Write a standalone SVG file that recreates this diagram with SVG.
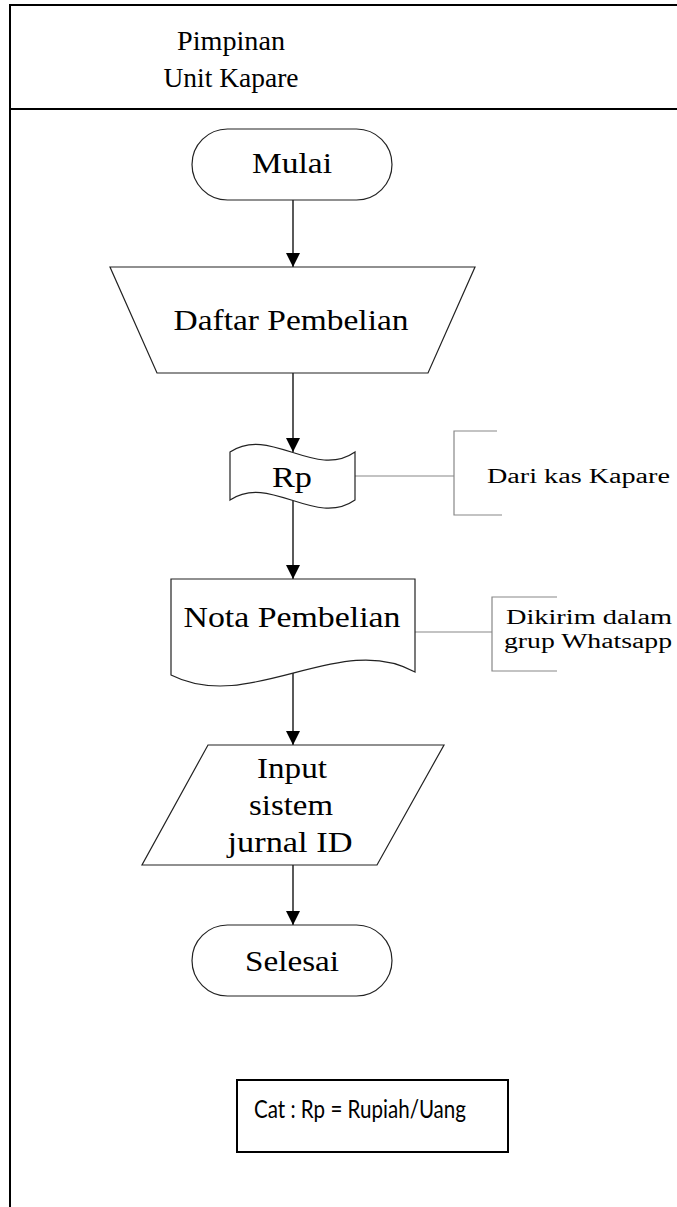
<svg xmlns="http://www.w3.org/2000/svg" width="677" height="1207" viewBox="0 0 677 1207">
  <style>
    .frame { fill: none; stroke: #000; stroke-width: 2; }
    .shape { fill: #fff; stroke: #222; stroke-width: 1.2; }
    .flow { fill: none; stroke: #000; stroke-width: 1.3; }
    .note { fill: none; stroke: #888; stroke-width: 1.2; }
  </style>
  <defs>
    <marker id="arrow" markerUnits="userSpaceOnUse" markerWidth="14" markerHeight="14" viewBox="0 0 14 14" refX="14" refY="7" orient="auto">
      <path d="M0,0 L14,7 L0,14 Z" fill="#000"/>
    </marker>
  </defs>
  <rect width="677" height="1207" fill="#fff"/>

  <!-- swimlane frame -->
  <g id="lane" font-family="Liberation Serif, serif" font-size="28" text-anchor="middle" fill="#000">
    <path class="frame" d="M10,1207 V5 H677 M10,109 H677"/>
    <text x="231" y="50" textLength="108" lengthAdjust="spacingAndGlyphs">Pimpinan</text>
    <text x="231" y="87" textLength="135" lengthAdjust="spacingAndGlyphs">Unit Kapare</text>
  </g>

  <!-- flow connectors -->
  <g id="connectors">
    <line class="flow" x1="293" y1="200" x2="293" y2="267" marker-end="url(#arrow)"/>
    <line class="flow" x1="293" y1="373" x2="293" y2="452" marker-end="url(#arrow)"/>
    <line class="flow" x1="293" y1="501" x2="293" y2="579" marker-end="url(#arrow)"/>
    <line class="flow" x1="293" y1="672" x2="293" y2="745" marker-end="url(#arrow)"/>
    <line class="flow" x1="293" y1="865" x2="293" y2="925" marker-end="url(#arrow)"/>
    <line class="note" x1="355" y1="476" x2="454" y2="476"/>
    <line class="note" x1="415" y1="632" x2="492" y2="632"/>
  </g>

  <g font-family="Liberation Serif, serif" font-size="30" text-anchor="middle" fill="#000">
    <g id="mulai">
      <rect class="shape" x="192" y="129" width="200" height="71" rx="35.5"/>
      <text x="292" y="173" textLength="80" lengthAdjust="spacingAndGlyphs">Mulai</text>
    </g>

    <g id="daftar-pembelian">
      <path class="shape" d="M110,267 H475 L428,373 H157 Z"/>
      <text x="291" y="330" textLength="235" lengthAdjust="spacingAndGlyphs">Daftar Pembelian</text>
    </g>

    <g id="rp">
      <path class="shape" d="M230,452 C270,425 315,480 355,452 V500 C315,528 270,473 230,500 Z"/>
      <text x="292" y="487" textLength="40" lengthAdjust="spacingAndGlyphs">Rp</text>
    </g>

    <g id="nota-pembelian">
      <path class="shape" d="M171,579 H415 V672 C340,630 250,715 171,675 Z"/>
      <text x="292" y="627" textLength="217" lengthAdjust="spacingAndGlyphs">Nota Pembelian</text>
    </g>

    <g id="input-jurnal">
      <path class="shape" d="M208,745 H444 L377,865 H142 Z"/>
      <text x="292" y="778" textLength="70" lengthAdjust="spacingAndGlyphs">Input</text>
      <text x="291" y="815" textLength="84" lengthAdjust="spacingAndGlyphs">sistem</text>
      <text x="290" y="852" textLength="125" lengthAdjust="spacingAndGlyphs">jurnal ID</text>
    </g>

    <g id="selesai">
      <rect class="shape" x="192" y="925" width="200" height="71" rx="35.5"/>
      <text x="292" y="971" textLength="94" lengthAdjust="spacingAndGlyphs">Selesai</text>
    </g>
  </g>

  <g font-family="Liberation Serif, serif" font-size="20" fill="#000">
    <g id="note-kas">
      <path class="note" d="M497,431 H454 V515 H502"/>
      <text x="487" y="483" textLength="183" lengthAdjust="spacingAndGlyphs">Dari kas Kapare</text>
    </g>

    <g id="note-whatsapp">
      <path class="note" d="M557,597 H492 V671 H557"/>
      <text x="506" y="624" textLength="166" lengthAdjust="spacingAndGlyphs">Dikirim dalam</text>
      <text x="504" y="648" textLength="168" lengthAdjust="spacingAndGlyphs">grup Whatsapp</text>
    </g>
  </g>

  <g id="catatan">
    <rect x="237" y="1080" width="271" height="72" fill="#fff" stroke="#000" stroke-width="2"/>
    <text x="254" y="1118" font-family="Lato, Open Sans, sans-serif" font-size="25" fill="#000" textLength="212" lengthAdjust="spacingAndGlyphs">Cat : Rp = Rupiah/Uang</text>
  </g>
</svg>
